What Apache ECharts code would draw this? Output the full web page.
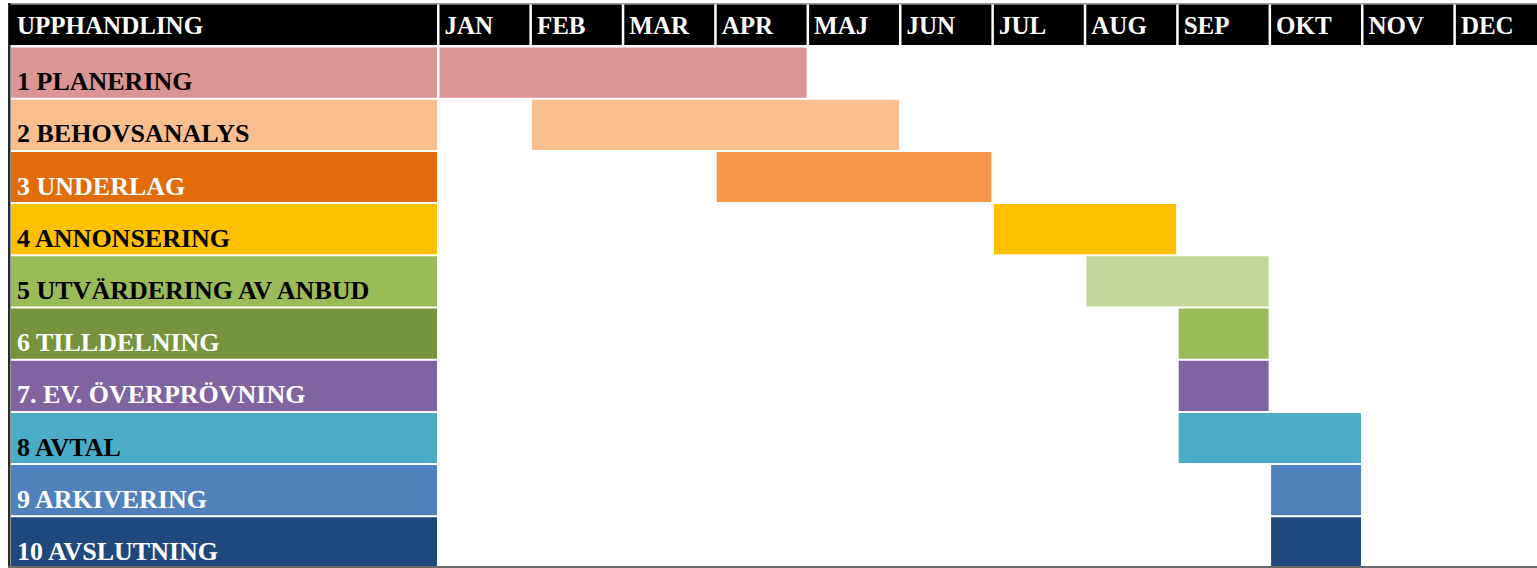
<!DOCTYPE html>
<html>
<head>
<meta charset="utf-8">
<script src="https://cdn.jsdelivr.net/npm/echarts@6/dist/echarts.min.js"></script>
<style>
html,body{margin:0;padding:0;background:#fff;}
#chart{width:1537px;height:568px;}
</style>
</head>
<body>
<div id="chart"></div>
<script>
const headerLabel = 'UPPHANDLING';
const months = ['JAN','FEB','MAR','APR','MAJ','JUN','JUL','AUG','SEP','OKT','NOV','DEC'];
const tasks = ['1 PLANERING','2 BEHOVSANALYS','3 UNDERLAG','4 ANNONSERING','5 UTVÄRDERING AV ANBUD','6 TILLDELNING','7. EV. ÖVERPRÖVNING','8 AVTAL','9 ARKIVERING','10 AVSLUTNING'];
const startMonth = [0,1,3,6,7,8,8,8,9,9];
const endMonth   = [4,5,6,8,9,9,9,10,10,10];
const labelColors = ['#DA9694','#FABF8F','#E26B0A','#FFC000','#9BBB59','#77933C','#8064A2','#4BACC6','#4F81BD','#1F497D'];
const barColors   = ['#DA9694','#FABF8F','#F79646','#FFC000','#C4D79B','#9BBB59','#8064A2','#4BACC6','#4F81BD','#1F497D'];
const textColors  = ['#000','#000','#fff','#000','#000','#fff','#fff','#000','#fff','#fff'];

const FONT_ROW = 'bold 26px "Liberation Serif"';
const FONT_HEAD = 'bold 25px "Liberation Serif"';

const chart = echarts.init(document.getElementById('chart'), null, {renderer:'svg'});

const GAP = 2.5;
const taskIdx = tasks.map((t,i)=>i);
// visible month span: the grid ends at the page edge, the last column (DEC) is cut off
const MONTH_MAX = 11.905;

const option = {
  animation:false,
  backgroundColor:'#fff',
  grid:[
    {left:11, width:426, top:45.5, height:522},   // label column
    {left:437, right:0, top:45.5, height:522},    // months body
    {left:9, width:428, top:4.5, height:40.5},    // header left
    {left:437, right:0, top:4.5, height:40.5}     // header months
  ],
  xAxis:[
    {gridIndex:0, type:'value', min:0, max:1, show:false},
    {gridIndex:1, type:'value', min:0, max:MONTH_MAX, show:false},
    {gridIndex:2, type:'value', min:0, max:1, show:false},
    {gridIndex:3, type:'value', min:0, max:MONTH_MAX, show:false}
  ],
  yAxis:[
    {gridIndex:0, type:'category', data:taskIdx, inverse:true, show:false},
    {gridIndex:1, type:'category', data:taskIdx, inverse:true, show:false},
    {gridIndex:2, type:'category', data:[0], show:false},
    {gridIndex:3, type:'category', data:[0], show:false}
  ],
  series:[
    {
      type:'custom', xAxisIndex:0, yAxisIndex:0, silent:true,
      data: tasks.map((t,i)=>[0,1,i]),
      renderItem:function(params, api){
        const r = api.value(2);
        const p0 = api.coord([0, r]);
        const p1 = api.coord([1, r]);
        const h = api.size([0,1])[1];
        const top = p0[1]-h/2+2;
        return {type:'group', children:[
          {type:'rect', shape:{x:p0[0], y:top, width:p1[0]-p0[0], height:h-2}, style:{fill:labelColors[r]}},
          {type:'text', style:{text:tasks[r], x:p0[0]+6, y:p0[1]+10, fill:textColors[r], font:FONT_ROW, align:'left', verticalAlign:'middle'}}
        ]};
      }
    },
    {
      type:'custom', xAxisIndex:1, yAxisIndex:1, silent:true, clip:false,
      data: tasks.map((t,i)=>[startMonth[i], endMonth[i], i]),
      renderItem:function(params, api){
        const s = api.value(0), e = api.value(1), r = api.value(2);
        const p0 = api.coord([s, r]);
        const p1 = api.coord([e, r]);
        const h = api.size([0,1])[1];
        return {type:'rect', shape:{x:p0[0]+GAP, y:p0[1]-h/2+2, width:p1[0]-p0[0]-GAP, height:h-2}, style:{fill:barColors[r]}};
      }
    },
    {
      type:'custom', xAxisIndex:2, yAxisIndex:2, silent:true,
      data:[[0,1,0]],
      renderItem:function(params, api){
        const p0 = api.coord([0,0]);
        const p1 = api.coord([1,0]);
        const h = api.size([0,1])[1];
        return {type:'group', children:[
          {type:'rect', shape:{x:p0[0], y:p0[1]-h/2, width:p1[0]-p0[0], height:h}, style:{fill:'#000'}},
          {type:'text', style:{text:headerLabel, x:p0[0]+8, y:p0[1]+1, fill:'#fff', font:FONT_HEAD, align:'left', verticalAlign:'middle'}}
        ]};
      }
    },
    {
      type:'custom', xAxisIndex:3, yAxisIndex:3, silent:true, clip:false,
      data: months.map((m,i)=>[i,i+1,0]),
      renderItem:function(params, api){
        const s = api.value(0), e = api.value(1);
        const p0 = api.coord([s,0]);
        const p1 = api.coord([e,0]);
        const h = api.size([0,1])[1];
        return {type:'group', children:[
          {type:'rect', shape:{x:p0[0]+GAP, y:p0[1]-h/2, width:p1[0]-p0[0]-GAP, height:h}, style:{fill:'#000'}},
          {type:'text', style:{text:months[params.dataIndex], x:p0[0]+GAP+5, y:p0[1]+1, fill:'#fff', font:FONT_HEAD, align:'left', verticalAlign:'middle'}}
        ]};
      }
    }
  ],
  graphic:[
    {type:'rect', shape:{x:8, y:3, width:1529, height:1.5}, style:{fill:'#9a9a9a'}, silent:true},
    {type:'rect', shape:{x:8, y:3, width:2.5, height:565}, style:{fill:'#2a2a2a'}, silent:true},
    {type:'rect', shape:{x:8, y:566, width:1529, height:2}, style:{fill:'#6b6b6b'}, silent:true, z:100}
  ]
};
chart.setOption(option);
</script>
</body>
</html>
